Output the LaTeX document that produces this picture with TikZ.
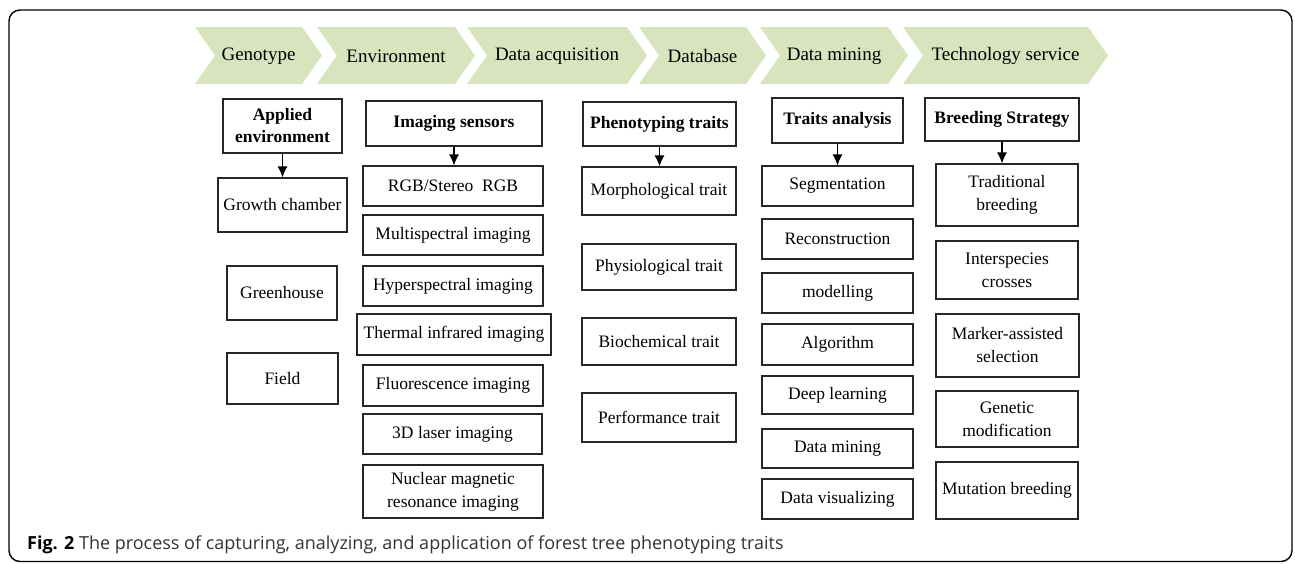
\documentclass[tikz,border=0pt]{standalone}
\usepackage{fontspec}
\setmainfont{Liberation Serif}
\newfontfamily\capfont{Open Sans}
\usetikzlibrary{arrows.meta}
\definecolor{chevgreen}{HTML}{D7E4BD}
\tikzset{
  box/.style={draw=black!85, line width=1.1pt, inner sep=0pt, align=center,
    font=\fontsize{17.5}{23}\selectfont},
  headbox/.style={box, font=\fontsize{17.5}{22}\selectfont\bfseries},
  chevtext/.style={font=\fontsize{19}{22}\selectfont},
  envbox/.style={box, minimum width=110pt, minimum height=52pt},
  sensbox/.style={box, minimum width=180pt, minimum height=40pt},
  traitbox/.style={box, minimum width=154pt, minimum height=47pt},
  minebox/.style={box, minimum width=151pt, minimum height=40pt},
  breedbox/.style={box, minimum width=142pt, minimum height=58pt},
}
\begin{document}
\begin{tikzpicture}[x=1pt,y=-1pt]
  \useasboundingbox (0,0) rectangle (1295,563);
  \draw[line width=1.4pt, rounded corners=11pt] (9,10) rectangle (1292,561.5);
  % process chevrons
  \foreach \xa/\xb/\lbl/\nm in {195/322/Genotype/geno, 317/475/Environment/envi,
      467/647/Data acquisition/acq, 639/766/Database/dbase,
      760/908/Data mining/mining, 903/1108/Technology service/tech}{
    \fill[chevgreen] (\xa,27) -- (\xb-20,27) -- (\xb,55.5) -- (\xb-20,84)
      -- (\xa,84) -- (\xa+20,55.5) -- cycle;
    \node[chevtext] (\nm) at ({(\xa+\xb)/2},56) {\lbl};
  }
  % headers
  \node[headbox, minimum width=119pt, minimum height=54pt] (hEnv) at (282.5,126) {Applied\\environment};
  \node[headbox, minimum width=176pt, minimum height=45pt] (hSens) at (454,123.5) {Imaging sensors};
  \node[headbox, minimum width=153pt, minimum height=44pt] (hTrait) at (659.5,124) {Phenotyping traits};
  \node[headbox, minimum width=131pt, minimum height=45pt] (hMine) at (837.5,120.5) {Traits analysis};
  \node[headbox, minimum width=154pt, minimum height=43pt] (hBreed) at (1002,119.5) {Breeding Strategy};
  % applied environment
  \node[envbox, minimum width=129pt, minimum height=54pt] (chamber) at (282.5,205) {Growth chamber};
  \node[envbox, minimum height=54pt] (green) at (282,293) {Greenhouse};
  \node[envbox, minimum width=111pt, minimum height=51pt] (field) at (282.5,378.5) {Field};
  % imaging sensors
  \node[sensbox] (rgb) at (453,186) {RGB/Stereo\ \ RGB};
  \node[sensbox] (multi) at (453,235) {Multispectral imaging};
  \node[sensbox] (hyper) at (453,286) {Hyperspectral imaging};
  \node[sensbox, minimum width=194pt, minimum height=41pt] (thermal) at (454,334.5) {Thermal infrared imaging};
  \node[sensbox, minimum height=41pt] (fluo) at (453,385.5) {Fluorescence imaging};
  \node[sensbox, minimum width=179pt] (laser) at (452.5,434) {3D laser imaging};
  \node[sensbox, minimum height=53pt] (nmr) at (453,491.5) {Nuclear magnetic\\resonance imaging};
  % phenotyping traits
  \node[traitbox, minimum height=48pt] (morph) at (659,191) {Morphological trait};
  \node[traitbox, minimum height=46pt] (physio) at (659,267) {Physiological trait};
  \node[traitbox] (biochem) at (659,341.5) {Biochemical trait};
  \node[traitbox, minimum height=49pt] (perform) at (659,417.5) {Performance trait};
  % traits analysis
  \node[minebox] (segm) at (837.5,186) {Segmentation};
  \node[minebox] (recon) at (837.5,239) {Reconstruction};
  \node[minebox] (model) at (837.5,293) {modelling};
  \node[minebox, minimum height=41pt] (algo) at (837.5,344.5) {Algorithm};
  \node[minebox, minimum height=38pt] (deep) at (837.5,395) {Deep learning};
  \node[minebox, minimum height=39pt] (dmine) at (837.5,448.5) {Data mining};
  \node[minebox] (visual) at (837.5,499) {Data visualizing};
  % breeding strategy
  \node[breedbox, minimum height=62pt] (trad) at (1007,195) {Traditional\\breeding};
  \node[breedbox] (inter) at (1007,270) {Interspecies\\crosses};
  \node[breedbox, minimum width=143pt, minimum height=63pt] (marker) at (1007.5,345.5) {Marker-assisted\\selection};
  \node[breedbox, minimum height=56pt] (genetic) at (1007,419) {Genetic\\modification};
  \node[breedbox, minimum height=57pt] (mutation) at (1007,490.5) {Mutation breeding};
  \begin{scope}[line width=1.3pt, -{Latex[length=11pt,width=10pt]}]
    \draw (hEnv.south) -- (hEnv.south |- chamber.north);
    \draw (hSens.south) -- (hSens.south |- rgb.north);
    \draw (hTrait.south) -- (hTrait.south |- morph.north);
    \draw (hMine.south) -- (hMine.south |- segm.north);
    \draw (hBreed.south) -- (hBreed.south |- trad.north);
  \end{scope}
  % caption
  \node[anchor=base west, inner sep=0pt, text=black!80,
    font=\capfont\fontsize{18}{21}\selectfont] (caption) at (27,549)
    {\textcolor{black}{\textbf{Fig. 2}} The process of capturing, analyzing, and application of forest tree phenotyping traits};
\end{tikzpicture}
\end{document}
